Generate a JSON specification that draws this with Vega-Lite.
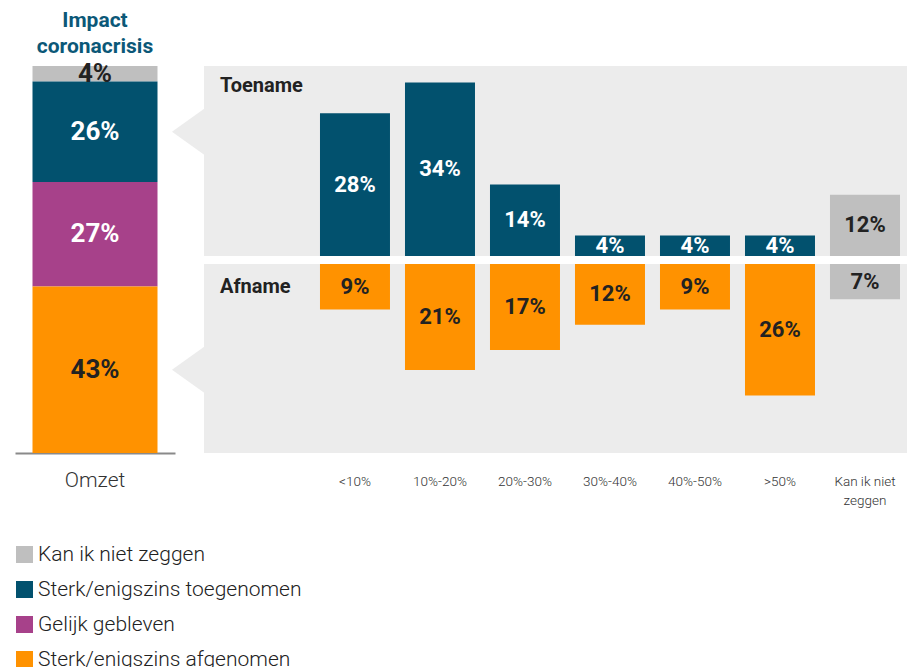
{
  "$schema": "https://vega.github.io/schema/vega-lite/v6.json",
  "padding": {"left": 14, "top": 9, "right": 0, "bottom": 0},
  "background": "white",
  "bounds": "flush",
  "config": {
    "font": "Roboto",
    "view": {"stroke": null},
    "legend": {
      "orient": "none",
      "legendX": -1,
      "legendY": 478,
      "direction": "vertical",
      "title": null,
      "symbolType": "square",
      "symbolSize": 289,
      "symbolStrokeWidth": 0,
      "labelFontSize": 21,
      "labelFontWeight": 300,
      "labelColor": "#222222",
      "labelOffset": 3,
      "rowPadding": 13,
      "labelLimit": 400
    }
  },
  "datasets": {
    "omzet": [
      {"measure": "Omzet", "group": "Kan ik niet zeggen", "value": 4},
      {"measure": "Omzet", "group": "Sterk/enigszins toegenomen", "value": 26},
      {"measure": "Omzet", "group": "Gelijk gebleven", "value": 27},
      {"measure": "Omzet", "group": "Sterk/enigszins afgenomen", "value": 43}
    ],
    "toename": [
      {"cat": "<10%", "group": "Sterk/enigszins toegenomen", "value": 28},
      {"cat": "10%-20%", "group": "Sterk/enigszins toegenomen", "value": 34},
      {"cat": "20%-30%", "group": "Sterk/enigszins toegenomen", "value": 14},
      {"cat": "30%-40%", "group": "Sterk/enigszins toegenomen", "value": 4},
      {"cat": "40%-50%", "group": "Sterk/enigszins toegenomen", "value": 4},
      {"cat": ">50%", "group": "Sterk/enigszins toegenomen", "value": 4},
      {"cat": "Kan ik niet zeggen", "group": "Kan ik niet zeggen", "value": 12}
    ],
    "afname": [
      {"cat": "<10%", "group": "Sterk/enigszins afgenomen", "value": 9},
      {"cat": "10%-20%", "group": "Sterk/enigszins afgenomen", "value": 21},
      {"cat": "20%-30%", "group": "Sterk/enigszins afgenomen", "value": 17},
      {"cat": "30%-40%", "group": "Sterk/enigszins afgenomen", "value": 12},
      {"cat": "40%-50%", "group": "Sterk/enigszins afgenomen", "value": 9},
      {"cat": ">50%", "group": "Sterk/enigszins afgenomen", "value": 26},
      {"cat": "Kan ik niet zeggen", "group": "Kan ik niet zeggen", "value": 7}
    ]
  },
  "spacing": 29,
  "hconcat": [
    {
      "width": 160,
      "height": 387,
      "title": {
        "text": ["Impact", "coronacrisis"],
        "color": "#0b5878",
        "fontSize": 21,
        "fontWeight": "bold",
        "anchor": "middle",
        "lineHeight": 26,
        "offset": 4
      },
      "data": {"name": "omzet"},
      "transform": [
        {"calculate": "indexof(['Sterk/enigszins afgenomen','Gelijk gebleven','Sterk/enigszins toegenomen','Kan ik niet zeggen'], datum.group)", "as": "ord"},
        {"stack": "value", "groupby": ["measure"], "sort": [{"field": "ord"}], "as": ["y0", "y1"]},
        {"calculate": "(datum.y0 + datum.y1) / 2", "as": "mid"},
        {"calculate": "datum.value + '%'", "as": "label"}
      ],
      "encoding": {
        "x": {
          "field": "measure",
          "type": "nominal",
          "title": null,
          "scale": {"paddingInner": 0, "paddingOuter": 0.14},
          "axis": {
            "labelAngle": 0,
            "labelFontSize": 21,
            "labelFontWeight": 300,
            "labelColor": "#333333",
            "labelPadding": 16,
            "ticks": false,
            "domain": true,
            "domainColor": "#8a8a8a",
            "domainWidth": 2
          }
        }
      },
      "layer": [
        {
          "mark": {"type": "bar"},
          "encoding": {
            "y": {"field": "y0", "type": "quantitative", "scale": {"domain": [0, 100]}, "axis": null},
            "y2": {"field": "y1"},
            "color": {
              "field": "group",
              "type": "nominal",
              "scale": {
                "domain": ["Kan ik niet zeggen", "Sterk/enigszins toegenomen", "Gelijk gebleven", "Sterk/enigszins afgenomen"],
                "range": ["#bfbfbf", "#02516e", "#a7418a", "#ff9200"]
              }
            }
          }
        },
        {
          "mark": {"type": "text", "fontSize": 26, "fontWeight": "bold", "baseline": "middle"},
          "encoding": {
            "y": {"field": "mid", "type": "quantitative", "scale": {"domain": [0, 100]}},
            "text": {"field": "label"},
            "color": {
              "condition": {"test": "datum.group === 'Sterk/enigszins toegenomen' || datum.group === 'Gelijk gebleven'", "value": "white"},
              "value": "#222222"
            }
          }
        },
        {
          "transform": [{"filter": "datum.group === 'Sterk/enigszins toegenomen' || datum.group === 'Sterk/enigszins afgenomen'"}],
          "mark": {
            "type": "point",
            "shape": "M 1.54 0 L 2.24 -0.5 L 2.24 0.5 Z",
            "size": 10000,
            "filled": true,
            "color": "#ececec",
            "opacity": 1,
            "strokeWidth": 0
          },
          "encoding": {
            "y": {"field": "mid", "type": "quantitative", "scale": {"domain": [0, 100]}}
          }
        }
      ]
    },
    {
      "spacing": 8,
      "bounds": "flush",
      "vconcat": [
        {
          "width": 703,
          "height": 190,
          "view": {"fill": "#ececec", "stroke": null},
          "title": {
            "text": "Toename",
            "anchor": "start",
            "frame": "group",
            "dx": 16,
            "offset": -46,
            "fontSize": 20,
            "fontWeight": "bold",
            "color": "#222222",
            "baseline": "alphabetic"
          },
          "data": {"name": "toename"},
          "transform": [
            {"calculate": "datum.value / 2", "as": "mid"},
            {"calculate": "datum.value + '%'", "as": "label"}
          ],
          "encoding": {
            "x": {
              "field": "cat",
              "type": "nominal",
              "sort": null,
              "scale": {"paddingInner": 0.1765, "paddingOuter": 0.7235, "align": 0.943},
              "axis": null
            }
          },
          "layer": [
            {
              "mark": {"type": "bar"},
              "encoding": {
                "y": {"field": "value", "type": "quantitative", "scale": {"domain": [0, 37.25]}, "axis": null},
                "color": {
                  "field": "group",
                  "type": "nominal",
                  "scale": {
                    "domain": ["Kan ik niet zeggen", "Sterk/enigszins toegenomen", "Gelijk gebleven", "Sterk/enigszins afgenomen"],
                    "range": ["#bfbfbf", "#02516e", "#a7418a", "#ff9200"]
                  }
                }
              }
            },
            {
              "mark": {"type": "text", "fontSize": 22, "fontWeight": "bold", "baseline": "middle"},
              "encoding": {
                "y": {"field": "mid", "type": "quantitative", "scale": {"domain": [0, 37.25]}},
                "text": {"field": "label"},
                "color": {
                  "condition": {"test": "datum.group === 'Sterk/enigszins toegenomen'", "value": "white"},
                  "value": "#222222"
                }
              }
            }
          ]
        },
        {
          "width": 703,
          "height": 189,
          "view": {"fill": "#ececec", "stroke": null},
          "title": {
            "text": "Afname",
            "anchor": "start",
            "frame": "group",
            "dx": 16,
            "offset": -49,
            "fontSize": 20,
            "fontWeight": "bold",
            "color": "#222222",
            "baseline": "alphabetic"
          },
          "data": {"name": "afname"},
          "transform": [
            {"calculate": "datum.value / 2", "as": "mid"},
            {"calculate": "datum.value + '%'", "as": "label"}
          ],
          "encoding": {
            "x": {
              "field": "cat",
              "type": "nominal",
              "sort": null,
              "title": null,
              "scale": {"paddingInner": 0.1765, "paddingOuter": 0.7235, "align": 0.943},
              "axis": {
                "labelAngle": 0,
                "labelFontSize": 13.5,
                "labelFontWeight": 300,
                "labelColor": "#333333",
                "labelPadding": 21,
                "labelLineHeight": 19,
                "ticks": false,
                "domain": false,
                "labelExpr": "datum.value === 'Kan ik niet zeggen' ? ['Kan ik niet', 'zeggen'] : datum.value"
              }
            }
          },
          "layer": [
            {
              "mark": {"type": "bar"},
              "encoding": {
                "y": {"field": "value", "type": "quantitative", "scale": {"domain": [0, 37.4], "reverse": true}, "axis": null},
                "color": {
                  "field": "group",
                  "type": "nominal",
                  "scale": {
                    "domain": ["Kan ik niet zeggen", "Sterk/enigszins toegenomen", "Gelijk gebleven", "Sterk/enigszins afgenomen"],
                    "range": ["#bfbfbf", "#02516e", "#a7418a", "#ff9200"]
                  }
                }
              }
            },
            {
              "mark": {"type": "text", "fontSize": 22, "fontWeight": "bold", "baseline": "middle"},
              "encoding": {
                "y": {"field": "mid", "type": "quantitative", "scale": {"domain": [0, 37.4], "reverse": true}},
                "text": {"field": "label"},
                "color": {"value": "#222222"}
              }
            }
          ]
        }
      ]
    }
  ]
}
